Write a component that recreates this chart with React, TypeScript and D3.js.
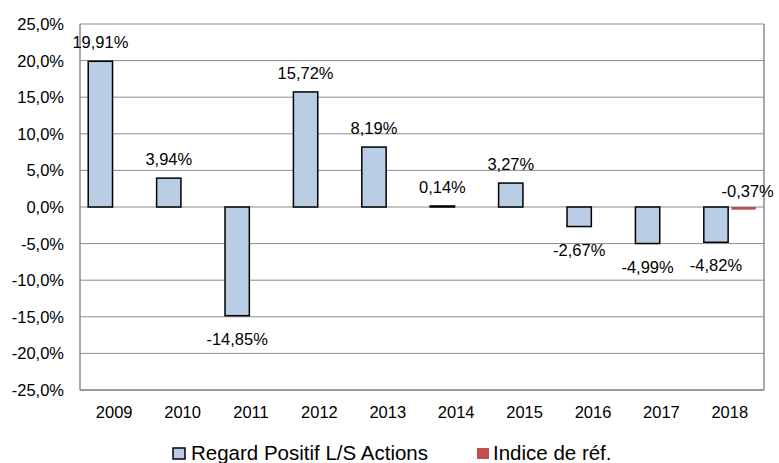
import React from "react";
import * as d3 from "d3";

const years = ["2009", "2010", "2011", "2012", "2013", "2014", "2015", "2016", "2017", "2018"];
const fundValues = [19.91, 3.94, -14.85, 15.72, 8.19, 0.14, 3.27, -2.67, -4.99, -4.82];
const indexValues: (number | null)[] = [null, null, null, null, null, null, null, null, null, -0.37];
const yTicks = [-25, -20, -15, -10, -5, 0, 5, 10, 15, 20, 25];
const seriesNames = ["Regard Positif L/S Actions", "Indice de réf."];

const W = 779, H = 463;
const M = { left: 80, right: 15, top: 24, bottom: 73 };
const fmt = (v: number) => v.toFixed(2).replace(".", ",") + "%";
const fmtTick = (v: number) => v.toFixed(1).replace(".", ",") + "%";
const FONT = "Liberation Sans, Arial, sans-serif";
const FS = 16.5;

export default function App() {
  const x = d3.scaleBand<string>().domain(years).range([M.left, W - M.right]).paddingInner(0.24).paddingOuter(0.12);
  const xs = d3.scaleBand<string>().domain(["fund", "idx"]).range([0, x.bandwidth()]).paddingInner(0.12);
  const y = d3.scaleLinear().domain([-25, 25]).range([H - M.bottom, M.top]);
  const bw = xs.bandwidth();
  const plotL = M.left, plotR = W - M.right;
  return (
    <svg width={W} height={H} style={{ position: "absolute", left: 0, top: 0, fontFamily: FONT }}>
      <rect x={0} y={0} width={W} height={H} fill="#fff" />
      {yTicks.map((t) => (
        <g key={t}>
          <line x1={plotL} x2={plotR} y1={y(t)} y2={y(t)} stroke="#8c8c8c" strokeWidth={1} />
          <text x={plotL - 16} y={y(t)} dy="0.36em" textAnchor="end" fontSize={FS} fill="#000">{fmtTick(t)}</text>
        </g>
      ))}
      <line x1={plotL} x2={plotL} y1={y(25)} y2={y(-25)} stroke="#8c8c8c" strokeWidth={1.5} />
      <line x1={plotR} x2={plotR} y1={y(25)} y2={y(-25)} stroke="#8c8c8c" strokeWidth={1.5} />
      <line x1={plotL} x2={plotR} y1={y(-25)} y2={y(-25)} stroke="#8c8c8c" strokeWidth={1.5} />
      {years.map((yr, i) => {
        const v = fundValues[i];
        const bx = (x(yr) as number) + (xs("fund") as number);
        const top = y(Math.max(0, v)), bot = y(Math.min(0, v));
        return (
          <g key={yr}>
            <rect x={bx} y={top} width={bw} height={Math.max(bot - top, 0.5)} fill="#b9cde5" stroke="#000" strokeWidth={1.5} />
            <text x={bx + bw / 2} y={v >= 0 ? top - 13 : bot + 29} textAnchor="middle" fontSize={FS} fill="#000">{fmt(v)}</text>
            <text x={(x(yr) as number) + x.bandwidth() / 2} y={y(-25) + 28} textAnchor="middle" fontSize={FS} fill="#000">{yr}</text>
          </g>
        );
      })}
      {years.map((yr, i) => {
        const v = indexValues[i];
        if (v === null) return null;
        const bx = (x(yr) as number) + (xs("idx") as number);
        const top = y(Math.max(0, v)), bot = y(Math.min(0, v));
        return (
          <g key={"i" + yr}>
            <rect x={bx} y={top} width={bw} height={bot - top} fill="#c0504d" />
            <text x={bx + bw / 2 + 4} y={y(0) - 10} textAnchor="middle" fontSize={FS} fill="#000">{fmt(v)}</text>
          </g>
        );
      })}
      <g transform={`translate(0, ${H - 3})`}>
        <rect x={173} y={-12} width={12} height={11} fill="#b9cde5" stroke="#000" strokeWidth={1.5} />
        <text x={191} y={0} fontSize={20.5} fill="#000">{seriesNames[0]}</text>
        <rect x={477} y={-12} width={12} height={11} fill="#c0504d" />
        <text x={493} y={0} fontSize={20.5} fill="#000">{seriesNames[1]}</text>
      </g>
    </svg>
  );
}
